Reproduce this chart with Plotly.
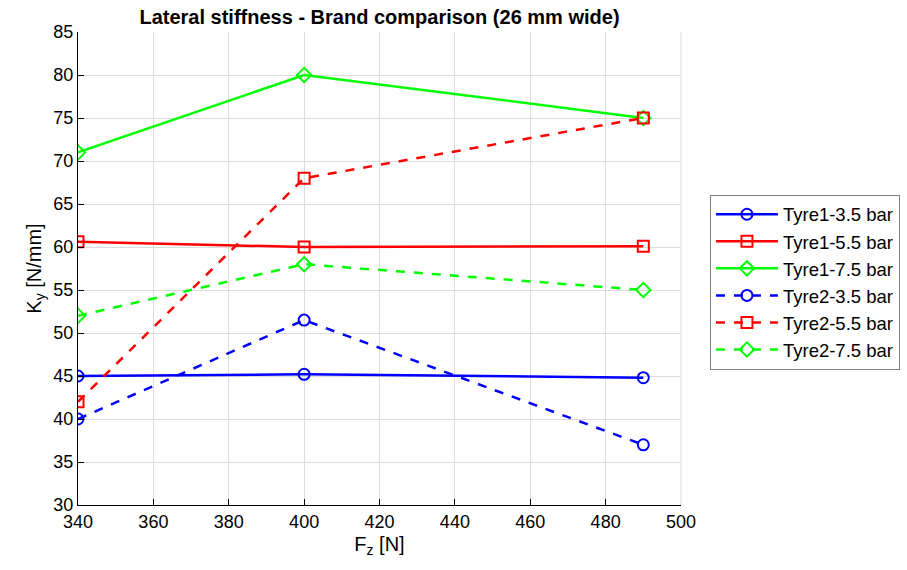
import plotly.graph_objects as go

fz = [340, 400, 490]
names = ["Tyre1-3.5 bar", "Tyre1-5.5 bar", "Tyre1-7.5 bar",
         "Tyre2-3.5 bar", "Tyre2-5.5 bar", "Tyre2-7.5 bar"]
tyre1_35 = [45.0, 45.2, 44.8]
tyre1_55 = [60.6, 60.0, 60.1]
tyre1_75 = [71.0, 80.0, 75.0]
tyre2_35 = [40.0, 51.5, 37.0]
tyre2_55 = [42.0, 68.0, 75.0]
tyre2_75 = [52.0, 58.0, 55.0]
series = [tyre1_35, tyre1_55, tyre1_75, tyre2_35, tyre2_55, tyre2_75]
colors = ["#0000ff", "#ff0000", "#00ff00", "#0000ff", "#ff0000", "#00ff00"]
symbols = ["circle-open", "square-open", "diamond-open"] * 2
dashes = ["solid"] * 3 + ["dash"] * 3

fig = go.Figure()
for n, ys, c, s, d in zip(names, series, colors, symbols, dashes):
    fig.add_trace(go.Scatter(
        x=fz, y=ys, name=n, mode="lines+markers",
        line=dict(color=c, width=2.5, dash=d),
        marker=dict(symbol=s, size=11, color=c, line=dict(width=2, color=c)),
    ))

font = "Liberation Sans, Arial, sans-serif"
fig.update_layout(
    width=907, height=570,
    margin=dict(l=78, r=226, t=32, b=65, autoexpand=False),
    paper_bgcolor="white", plot_bgcolor="white",
    font=dict(family=font, size=18, color="black"),
    title=dict(text="<b>Lateral stiffness - Brand comparison (26 mm wide)</b>",
               x=0.5, xref="paper", xanchor="center", y=0.97, yanchor="middle",
               font=dict(size=20, color="black")),
    legend=dict(x=1.048, xanchor="left", y=0.471, yanchor="middle",
                bordercolor="#808080", borderwidth=1, bgcolor="white",
                font=dict(size=18.5, color="black"), tracegroupgap=0,
                itemwidth=62),
    showlegend=True,
)
fig.update_xaxes(range=[340, 500], dtick=20, showgrid=True, gridcolor="#dcdcdc",
                 showline=True, linecolor="black", linewidth=1.2,
                 ticks="inside", ticklen=6, tickcolor="black",
                 tickfont=dict(size=18, color="black"),
                 title=dict(text="F<sub>z</sub> [N]", font=dict(size=20, color="black"), standoff=6),
                 zeroline=False)
fig.update_yaxes(range=[30, 85], dtick=5, showgrid=True, gridcolor="#dcdcdc",
                 showline=True, linecolor="black", linewidth=1.2,
                 ticks="inside", ticklen=6, tickcolor="black",
                 tickfont=dict(size=18, color="black"),
                 title=dict(text="K<sub>y</sub> [N/mm]", font=dict(size=20, color="black"), standoff=6),
                 zeroline=False)
# right grid border
fig.add_shape(type="line", xref="paper", yref="paper", x0=1, x1=1, y0=0, y1=1,
              line=dict(color="#dcdcdc", width=1))

fig.write_html("out.html")
